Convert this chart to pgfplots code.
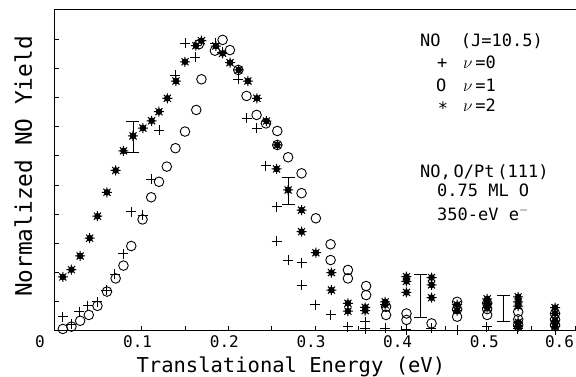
\documentclass[border=0pt]{standalone}
\usepackage{pgfplots}
\pgfplotsset{compat=1.18}
\usepackage{fontspec}
\setmainfont{DejaVu Sans Mono}
\newcommand{\lblfont}{\fontsize{17}{17}\selectfont}

\pgfdeclareplotmark{bstar}{%
  \pgfpathmoveto{\pgfqpoint{0pt}{\pgfplotmarksize}}%
  \pgfpathlineto{\pgfqpoint{0pt}{-\pgfplotmarksize}}%
  \pgfpathmoveto{\pgfqpoint{\pgfplotmarksize}{0pt}}%
  \pgfpathlineto{\pgfqpoint{-\pgfplotmarksize}{0pt}}%
  \pgfpathmoveto{\pgfqpoint{0.707\pgfplotmarksize}{0.707\pgfplotmarksize}}%
  \pgfpathlineto{\pgfqpoint{-0.707\pgfplotmarksize}{-0.707\pgfplotmarksize}}%
  \pgfpathmoveto{\pgfqpoint{-0.707\pgfplotmarksize}{0.707\pgfplotmarksize}}%
  \pgfpathlineto{\pgfqpoint{0.707\pgfplotmarksize}{-0.707\pgfplotmarksize}}%
  \pgfusepathqstroke
  \pgfpathcircle{\pgfpointorigin}{0.55\pgfplotmarksize}%
  \pgfusepathqfillstroke
}

\begin{document}
\begin{tikzpicture}
\begin{axis}[
  at={(0,0)}, anchor=south west,
  scale only axis, width=537.3pt, height=321.2pt,
  xmin=0, xmax=0.62, ymin=0, ymax=1.1,
  clip=false,
  axis line style={line width=1pt},
  xtick={0.1,0.2,0.3,0.4,0.5,0.6},
  xticklabels={0.1,0.2,0.3,0.4,0.5,\makebox[6pt][r]{0.6}},
  extra x ticks={0}, extra x tick labels={0},
  extra x tick style={xticklabel style={xshift=-11pt}, major tick length=0pt},
  minor x tick num=1,
  ytick={0.1,0.2,0.3,0.4,0.5,0.6,0.7,0.8,0.9,1.0},
  yticklabels={},
  tick align=inside, major tick length=4.5pt, minor tick length=4.5pt,
  tick style={line width=0.8pt, black},
  xtick pos=bottom, ytick pos=left,
  /pgf/number format/assume math mode=true,
  xticklabel style={font=\fontsize{16}{16}\selectfont, anchor=base, yshift=-17pt, xshift=-4pt},
  xlabel={Translational Energy (eV)},
  ylabel={Normalized NO Yield},
  xlabel style={font=\fontsize{20.5}{20.5}\selectfont, at={(axis description cs:0.439,0)}, anchor=base, yshift=-42pt},
  ylabel style={font=\fontsize{22.8}{22.8}\selectfont, at={(axis description cs:0,0.512)}, anchor=base, yshift=23pt},
]
% v=0 crosses
\addplot[only marks, mark=+, mark size=5pt, line width=0.9pt] coordinates {
(0.009,0.049) (0.019,0.024) (0.028,0.066) (0.038,0.087) (0.049,0.100)
(0.059,0.140) (0.069,0.195) (0.079,0.264) (0.088,0.409) (0.101,0.397)
(0.111,0.520) (0.120,0.688) (0.139,0.875) (0.150,0.985) (0.162,0.938)
(0.185,0.985) (0.193,0.955) (0.2115,0.862) (0.221,0.728) (0.2326,0.694)
(0.2434,0.566) (0.2557,0.426) (0.2557,0.308) (0.269,0.242) (0.2845,0.234)
(0.2845,0.156) (0.300,0.090) (0.318,0.055) (0.338,0.015) (0.358,0.032)
(0.358,0.008) (0.381,0.010) (0.405,0.005) (0.434,0.010) (0.464,0.003)
(0.498,0.015) (0.534,0.008) (0.577,0.003)
};
% v=1 circles
\addplot[only marks, mark=o, mark size=4.8pt, line width=0.9pt] coordinates {
(0.009,0.007) (0.019,0.015) (0.029,0.035) (0.039,0.055) (0.049,0.086)
(0.060,0.135) (0.070,0.180) (0.079,0.224) (0.088,0.291) (0.101,0.382)
(0.111,0.458) (0.120,0.511) (0.129,0.563) (0.139,0.626) (0.150,0.683)
(0.163,0.757) (0.169,0.862) (0.166,0.982) (0.1845,0.960) (0.1934,0.997)
(0.2018,0.962) (0.2115,0.894) (0.221,0.805) (0.2326,0.740) (0.2434,0.711)
(0.2565,0.685) (0.2565,0.637) (0.269,0.595) (0.2845,0.540) (0.2845,0.472)
(0.301,0.386) (0.318,0.297) (0.318,0.243) (0.338,0.209) (0.338,0.180)
(0.359,0.154) (0.359,0.123) (0.382,0.083) (0.382,0.055) (0.4056,0.060)
(0.4056,0.038) (0.4345,0.026) (0.464,0.100) (0.464,0.075) (0.464,0.049)
(0.4987,0.095) (0.4987,0.075) (0.4987,0.055) (0.5345,0.066) (0.5345,0.040)
(0.5345,0.021) (0.577,0.060) (0.577,0.040) (0.577,0.021)
};
% v=2 stars
\addplot[only marks, mark=bstar, mark size=5pt, line width=1pt, mark options={fill=black}] coordinates {
(0.009,0.185) (0.019,0.210) (0.029,0.257) (0.040,0.318) (0.049,0.393)
(0.060,0.475) (0.070,0.550) (0.079,0.617) (0.090,0.668) (0.1015,0.695)
(0.1115,0.720) (0.120,0.751) (0.1296,0.797) (0.1396,0.856) (0.150,0.922)
(0.1626,0.977) (0.169,0.994) (0.1857,0.976) (0.1934,0.951) (0.202,0.919)
(0.212,0.894) (0.2226,0.856) (0.233,0.797) (0.244,0.719) (0.2565,0.637)
(0.2557,0.555) (0.269,0.483) (0.2845,0.414) (0.2845,0.340) (0.301,0.268)
(0.319,0.200) (0.319,0.140) (0.338,0.095) (0.338,0.068) (0.358,0.081)
(0.358,0.070) (0.381,0.100) (0.381,0.090) (0.4056,0.186) (0.4056,0.170)
(0.4056,0.132) (0.4345,0.183) (0.4345,0.158) (0.4345,0.114) (0.464,0.090)
(0.464,0.070) (0.4987,0.110) (0.4987,0.095) (0.4987,0.080) (0.5345,0.117)
(0.5345,0.100) (0.5345,0.085) (0.5345,0.030) (0.5345,0.015) (0.577,0.080)
(0.577,0.060) (0.577,0.035) (0.577,0.015)
};
% error bars
\addplot[draw=none, mark=none, error bars/.cd, y dir=both, y explicit,
  error bar style={draw=black, solid, line width=0.9pt},
  error mark options={rotate=90, draw=black, solid, line width=0.9pt, mark size=6.5pt}] coordinates {
(0.090,0.668) += (0,0.050) -= (0,0.055)
(0.269,0.483) += (0,0.044) -= (0,0.051)
(0.422,0.120) += (0,0.074) -= (0,0.074)
(0.518,0.0765) += (0,0.0445) -= (0,0.0445)
};
% legend / annotation text
\node[anchor=base west, inner sep=0pt, font=\lblfont] at (axis cs:0.421,0.9726) {NO\ \ (J=10.5)};
\node[anchor=base west, inner sep=0pt, font=\lblfont] at (axis cs:0.4407,0.900) {+};
\node[anchor=base west, inner sep=0pt, font=\lblfont] at (axis cs:0.4707,0.900) {$\nu$\,=0};
\node[anchor=base west, inner sep=0pt, font=\lblfont] at (axis cs:0.4395,0.8195) {O};
\node[anchor=base west, inner sep=0pt, font=\lblfont] at (axis cs:0.4707,0.8195) {$\nu$\,=1};
\node[anchor=base west, inner sep=0pt, font=\lblfont] at (axis cs:0.4415,0.753) {\raisebox{-0.35ex}{*}};
\node[anchor=base west, inner sep=0pt, font=\lblfont] at (axis cs:0.4707,0.753) {$\nu$\,=2};
\node[anchor=base west, inner sep=0pt, font=\lblfont] at (axis cs:0.421,0.527) {NO,\,O/Pt\,(111)};
\node[anchor=base west, inner sep=0pt, font=\lblfont] at (axis cs:0.4407,0.459) {0.75 ML O};
\node[anchor=base west, inner sep=0pt, font=\lblfont] at (axis cs:0.4407,0.380) {350-eV e$^{-}$};
\end{axis}
\pgfresetboundingbox
\path (-55pt,-46pt) rectangle (521pt,331pt);
\end{tikzpicture}
\end{document}
